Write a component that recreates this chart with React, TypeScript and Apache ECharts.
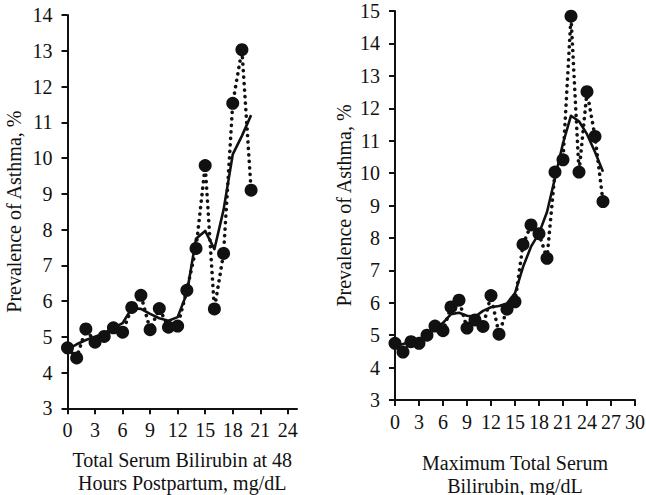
import React, { useEffect, useRef } from "react";
import * as echarts from "echarts";

// Left panel: total serum bilirubin at 48 h (mg/dL)
const leftX = [0, 1, 2, 3, 4, 5, 6, 7, 8, 9, 10, 11, 12, 13, 14, 15, 16, 17, 18, 19, 20];
const leftObserved = [4.69, 4.41, 5.22, 4.85, 5.01, 5.25, 5.13, 5.82, 6.16, 5.2, 5.79, 5.27, 5.3, 6.3, 7.47, 9.79, 5.78, 7.33, 11.53, 13.03, 9.1];
const leftSmoothed = [4.65, 4.79, 4.91, 5.0, 5.1, 5.24, 5.38, 5.8, 5.78, 5.64, 5.52, 5.45, 5.55, 6.22, 7.74, 7.96, 7.45, 8.55, 10.1, 10.62, 11.2];

// Right panel: maximum total serum bilirubin (mg/dL)
const rightX = [0, 1, 2, 3, 4, 5, 6, 7, 8, 9, 10, 11, 12, 13, 14, 15, 16, 17, 18, 19, 20, 21, 22, 23, 24, 25, 26];
const rightObserved = [4.75, 4.48, 4.8, 4.75, 5.0, 5.28, 5.14, 5.87, 6.08, 5.22, 5.47, 5.27, 6.22, 5.03, 5.8, 6.03, 7.8, 8.4, 8.13, 7.37, 10.03, 10.41, 14.84, 10.03, 12.51, 11.13, 9.12];
const rightSmoothed = [4.66, 4.73, 4.8, 4.88, 5.02, 5.18, 5.38, 5.65, 5.69, 5.6, 5.57, 5.75, 5.86, 5.9, 5.98, 6.3, 7.1, 7.73, 8.14, 8.8, 9.85, 10.92, 11.77, 11.6, 11.2, 10.65, 10.04];

const leftTicks = [0, 3, 6, 9, 12, 15, 18, 21, 24];
const rightTicks = [0, 3, 6, 9, 12, 15, 18, 21, 24, 27, 30];

const yTitle = "Prevalence of Asthma, %";
const leftXTitle = "Total Serum Bilirubin at 48\nHours Postpartum, mg/dL";
const rightXTitle = "Maximum Total Serum\nBilirubin, mg/dL";

const FONT = "Liberation Serif";
const INK = "#111";

function pairs(xs: number[], ys: number[]) {
  return xs.map((x, i) => [x, ys[i]]);
}

export default function App() {
  const ref = useRef<HTMLDivElement>(null);

  useEffect(() => {
    if (!ref.current) return;
    const chart = echarts.init(ref.current, undefined, { renderer: "svg" });

    const axisLine = { show: true, onZero: false, lineStyle: { color: INK, width: 2 } };
    const axisTick = { show: true, inside: false, length: 6, lineStyle: { color: INK, width: 2 } };
    const axisLabelBase = { color: INK, fontFamily: FONT, fontSize: 20 };
    const nameStyle = { color: INK, fontFamily: FONT, fontSize: 20, lineHeight: 23 };

    const xAxisCommon = (max: number, ticks: number[], name: string, gap: number, gridIndex: number) => ({
      type: "value",
      gridIndex,
      min: 0,
      max,
      interval: 3,
      name,
      nameLocation: "middle",
      nameGap: gap,
      nameMoveOverlap: false,
      nameTextStyle: nameStyle,
      axisLine,
      axisTick: { ...axisTick, customValues: ticks },
      axisLabel: { ...axisLabelBase, margin: 12, customValues: ticks },
      splitLine: { show: false },
    });

    const yAxisCommon = (min: number, max: number, gap: number, gridIndex: number) => ({
      type: "value",
      gridIndex,
      min,
      max,
      interval: 1,
      name: yTitle,
      nameLocation: "middle",
      nameGap: gap,
      nameRotate: 90,
      nameMoveOverlap: false,
      nameTextStyle: nameStyle,
      axisLine,
      axisTick,
      axisLabel: { ...axisLabelBase, margin: 15 },
      splitLine: { show: false },
    });

    const dotted = (xi: number, data: number[][]) => ({
      type: "line",
      xAxisIndex: xi,
      yAxisIndex: xi,
      data,
      symbol: "circle",
      symbolSize: 13,
      showSymbol: true,
      itemStyle: { color: INK, borderWidth: 0 },
      lineStyle: { color: INK, width: 3.6, type: [0.1, 6.4], cap: "round" },
      z: 2,
    });

    const solid = (xi: number, data: number[][]) => ({
      type: "line",
      xAxisIndex: xi,
      yAxisIndex: xi,
      data,
      symbol: "none",
      showSymbol: false,
      lineStyle: { color: INK, width: 2.6, type: "solid", join: "round" },
      z: 3,
    });

    chart.setOption({
      animation: false,
      backgroundColor: "#fff",
      textStyle: { fontFamily: FONT },
      grid: [
        { left: 67.5, top: 15, width: 229.5, height: 393.3, containLabel: false, outerBoundsMode: "none" },
        { left: 395, top: 11, width: 240, height: 389, containLabel: false, outerBoundsMode: "none" },
      ],
      xAxis: [
        xAxisCommon(25, leftTicks, leftXTitle, 40, 0),
        xAxisCommon(30, rightTicks, rightXTitle, 51, 1),
      ],
      yAxis: [yAxisCommon(3, 14, 42, 0), yAxisCommon(3, 15, 40, 1)],
      series: [
        dotted(0, pairs(leftX, leftObserved)),
        solid(0, pairs(leftX, leftSmoothed)),
        dotted(1, pairs(rightX, rightObserved)),
        solid(1, pairs(rightX, rightSmoothed)),
      ],
    });

    return () => chart.dispose();
  }, []);

  return (
    <div
      ref={ref}
      style={{ position: "fixed", left: 0, top: 0, width: 646, height: 495, background: "#fff" }}
    />
  );
}
